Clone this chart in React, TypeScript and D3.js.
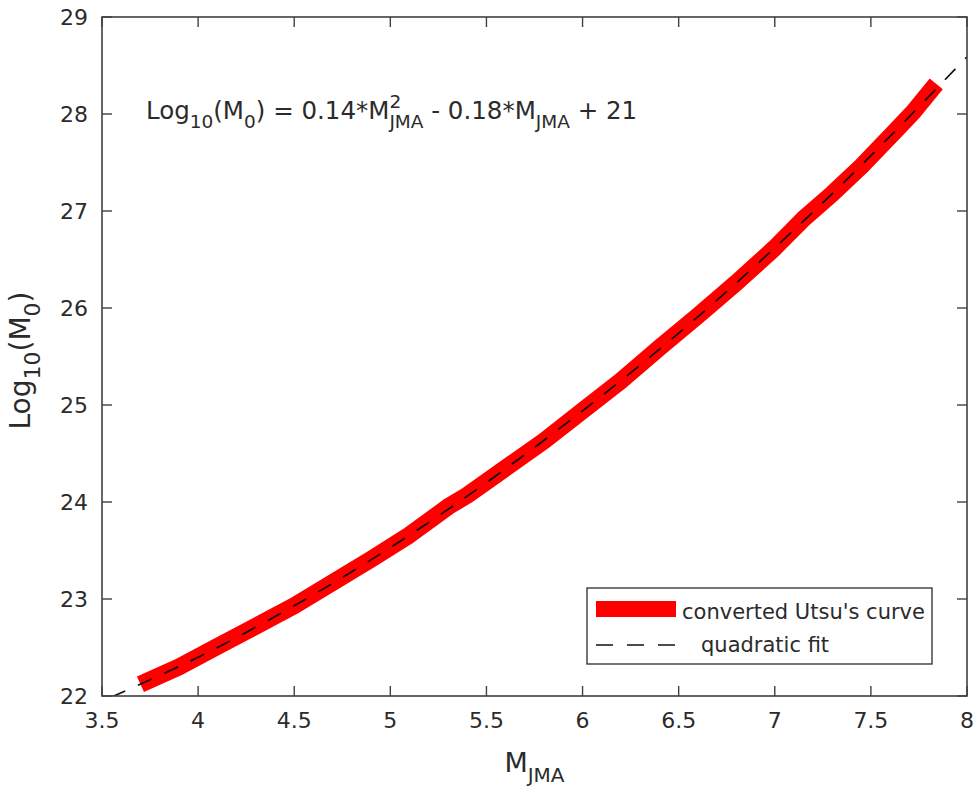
import React from "react";
import * as d3 from "d3";

// converted Utsu's curve
const utsuM = [3.7, 3.9, 4.1, 4.3, 4.5, 4.7, 4.9, 5.1, 5.3, 5.4, 5.6, 5.8, 6.0, 6.2, 6.4, 6.6, 6.8, 7.0, 7.15, 7.3, 7.45, 7.6, 7.72, 7.84];
const utsuLog = [22.12, 22.3, 22.51, 22.72, 22.93, 23.17, 23.41, 23.66, 23.95, 24.07, 24.35, 24.63, 24.94, 25.25, 25.59, 25.92, 26.26, 26.62, 26.92, 27.18, 27.46, 27.77, 28.02, 28.31];

// quadratic fit line
const fitM = [3.55, 4, 4.5, 5, 5.5, 6, 6.5, 7, 7.5, 8];
const fitLog = [21.99, 22.4, 22.93, 23.53, 24.2, 24.94, 25.74, 26.62, 27.57, 28.59];

const xTicks = [3.5, 4, 4.5, 5, 5.5, 6, 6.5, 7, 7.5, 8];
const yTicks = [22, 23, 24, 25, 26, 27, 28, 29];

const legendLabels = ["converted Utsu's curve", "quadratic fit"];

const W = 980;
const H = 795;
const margin = { top: 17, right: 13, bottom: 99, left: 102 };
const FONT = "'DejaVu Sans', 'Liberation Sans', Arial, sans-serif";
const INK = "#2b2b2b";

export default function App() {
  const iw = W - margin.left - margin.right;
  const ih = H - margin.top - margin.bottom;

  const x = d3.scaleLinear().domain([3.5, 8]).range([0, iw]);
  const y = d3.scaleLinear().domain([22, 29]).range([ih, 0]);

  const utsuLine = d3
    .line<number>()
    .x((d, i) => x(utsuM[i]))
    .y(d => y(d))
    .curve(d3.curveLinear);

  const fitLine = d3
    .line<number>()
    .x((d, i) => x(fitM[i]))
    .y(d => y(d))
    .curve(d3.curveNatural);

  const tickLen = 10;

  return (
    <svg
      width={W}
      height={H}
      style={{ position: "absolute", left: 0, top: 0, background: "#fff" }}
      fontFamily={FONT}
    >
      <defs>
        <clipPath id="plotClip">
          <rect x={0} y={0} width={iw} height={ih} />
        </clipPath>
      </defs>
      <g transform={`translate(${margin.left},${margin.top})`}>
        {/* series */}
        <g clipPath="url(#plotClip)">
          <path
            d={utsuLine(utsuLog) || ""}
            fill="none"
            stroke="#ff0000"
            strokeWidth={17}
            strokeLinejoin="round"
            strokeLinecap="butt"
          />
          <path
            d={fitLine(fitLog) || ""}
            fill="none"
            stroke="#111"
            strokeWidth={1.7}
            strokeDasharray="15 14"
          />
        </g>

        {/* box */}
        <rect x={0} y={0} width={iw} height={ih} fill="none" stroke="#404040" strokeWidth={1.6} />

        {/* x ticks */}
        {xTicks.map(t => (
          <g key={"x" + t}>
            <line x1={x(t)} x2={x(t)} y1={ih} y2={ih - tickLen} stroke="#404040" strokeWidth={1.4} />
            <line x1={x(t)} x2={x(t)} y1={0} y2={tickLen} stroke="#404040" strokeWidth={1.4} />
            <text x={x(t)} y={ih + 32} textAnchor="middle" fontSize={22} fill={INK}>
              {String(t)}
            </text>
          </g>
        ))}

        {/* y ticks */}
        {yTicks.map(t => (
          <g key={"y" + t}>
            <line x1={0} x2={tickLen} y1={y(t)} y2={y(t)} stroke="#404040" strokeWidth={1.4} />
            <line x1={iw} x2={iw - tickLen} y1={y(t)} y2={y(t)} stroke="#404040" strokeWidth={1.4} />
            <text x={-14} y={y(t) + 8} textAnchor="end" fontSize={22} fill={INK}>
              {String(t)}
            </text>
          </g>
        ))}

        {/* annotation */}
        <text x={x(3.5) + 44} y={102} fontSize={24.5} fill={INK}>
          <tspan>Log</tspan>
          <tspan fontSize={18.5} dy={9}>10</tspan>
          <tspan dy={-9}>(M</tspan>
          <tspan fontSize={18.5} dy={9}>0</tspan>
          <tspan dy={-9}>) = 0.14*M</tspan>
          <tspan fontSize={18.5} dy={-11}>2</tspan>
          <tspan fontSize={18.5} dx={-11.8} dy={20}>JMA</tspan>
          <tspan dy={-9}> - 0.18*M</tspan>
          <tspan fontSize={18.5} dy={9}>JMA</tspan>
          <tspan dy={-9}> + 21</tspan>
        </text>

        {/* legend */}
        <g transform={`translate(${x(3.5) + 485},${571})`}>
          <rect x={0} y={0} width={345} height={76} fill="#fff" stroke={INK} strokeWidth={1.3} />
          <line x1={9} x2={89} y1={21} y2={21} stroke="#ff0000" strokeWidth={16} />
          <text x={95} y={31} fontSize={21} fill={INK}>{legendLabels[0]}</text>
          <line x1={9} x2={89} y1={57} y2={57} stroke="#111" strokeWidth={1.7} strokeDasharray="17 14" />
          <text x={114} y={64} fontSize={21} fill={INK}>{legendLabels[1]}</text>
        </g>

        {/* x axis label */}
        <text x={iw / 2} y={ih + 76} textAnchor="middle" fontSize={27} fill={INK}>
          <tspan>M</tspan>
          <tspan fontSize={20} dy={10}>JMA</tspan>
        </text>

        {/* y axis label */}
        <text
          transform={`translate(${-72},${ih / 2 + 4}) rotate(-90)`}
          textAnchor="middle"
          fontSize={28}
          fill={INK}
        >
          <tspan>Log</tspan>
          <tspan fontSize={22} dy={10}>10</tspan>
          <tspan dy={-10}>(M</tspan>
          <tspan fontSize={22} dy={10}>0</tspan>
          <tspan dy={-10}>)</tspan>
        </text>
      </g>
    </svg>
  );
}
